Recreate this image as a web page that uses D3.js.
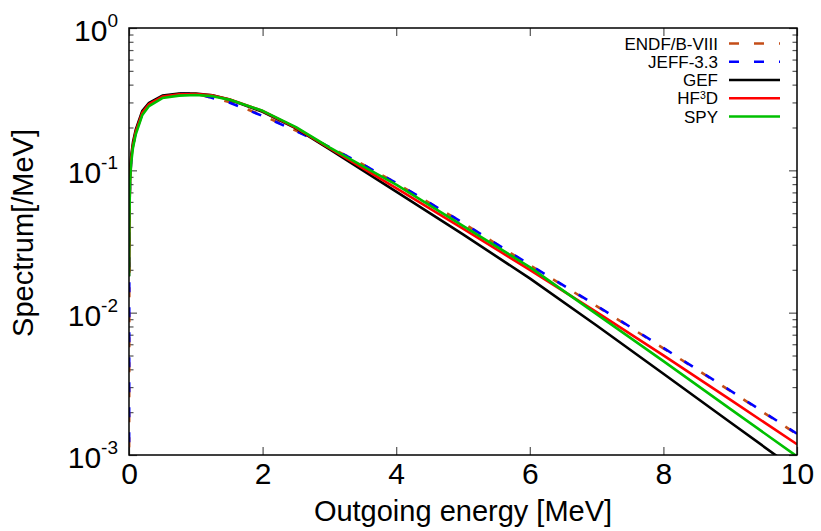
<!DOCTYPE html>
<html>
<head>
<meta charset="utf-8">
<script src="https://cdn.jsdelivr.net/npm/d3@7"></script>
<style>
  body { margin: 0; background: #fff; }
  svg { font-family: "Liberation Sans", Arial, sans-serif; }
</style>
</head>
<body>
<svg id="chart" width="821" height="531"></svg>
<script>
// outgoing energy grid [MeV]
const energy = [0, 0.005, 0.015, 0.03, 0.06, 0.1, 0.2, 0.3, 0.5, 0.75, 1, 1.25, 1.5, 2, 2.5, 3, 3.5, 4, 5, 6, 7, 8, 9, 10];

// spectra [/MeV]
const endf = [0.0001, 0.045, 0.08, 0.11, 0.148, 0.183, 0.25, 0.29, 0.33, 0.344, 0.345, 0.323, 0.302, 0.243, 0.19, 0.146, 0.11, 0.0813, 0.0427, 0.0216, 0.0111, 0.00562, 0.00282, 0.0014];
const jeff = [0.0001, 0.046, 0.081, 0.111, 0.149, 0.184, 0.251, 0.291, 0.331, 0.345, 0.347, 0.322, 0.3, 0.241, 0.189, 0.146, 0.11, 0.0815, 0.0428, 0.0217, 0.0112, 0.00565, 0.00284, 0.00141];
const gef = [0.018, 0.05, 0.09, 0.123, 0.158, 0.192, 0.262, 0.298, 0.335, 0.346, 0.347, 0.337, 0.315, 0.258, 0.197, 0.141, 0.1, 0.0708, 0.0355, 0.0174, 0.00813, 0.00372, 0.0017, 0.000776];
const hf3d = [0.019, 0.048, 0.086, 0.118, 0.152, 0.186, 0.255, 0.292, 0.33, 0.342, 0.344, 0.336, 0.316, 0.261, 0.199, 0.143, 0.1035, 0.075, 0.0389, 0.02, 0.0101, 0.00501, 0.00245, 0.00119];
const spy = [0.018, 0.044, 0.08, 0.11, 0.145, 0.178, 0.245, 0.283, 0.322, 0.335, 0.338, 0.332, 0.314, 0.262, 0.201, 0.145, 0.107, 0.0794, 0.0407, 0.0209, 0.00977, 0.00457, 0.00211, 0.000977];

const seriesNames = ['ENDF/B-VIII', 'JEFF-3.3', 'GEF', 'HF3D', 'SPY'];
const seriesValues = [endf, jeff, gef, hf3d, spy];

const xTicks = [0, 2, 4, 6, 8, 10];
const yTicks = [1, 0.1, 0.01, 0.001];
const yTickExp = ['0', '-1', '-2', '-3'];

// line styles, same order as seriesNames
const styles = [
  { color: '#c44d18', dash: '10,15', offset: 0 },
  { color: '#0000ff', dash: '10,15', offset: -5 },
  { color: '#000000', dash: null, offset: 0 },
  { color: '#ff0000', dash: null, offset: 0 },
  { color: '#00c000', dash: null, offset: 0 }
];

const margin = { left: 129, top: 28 };
const width = 668, height = 427;

const svg = d3.select('#chart');
const chart = svg.append('g')
  .attr('transform', `translate(${margin.left}, ${margin.top})`);

const xScale = d3.scaleLinear().domain([0, 10]).range([0, width]);
const yScale = d3.scaleLog().domain([0.001, 1]).range([height, 0]);

svg.append('defs').append('clipPath').attr('id', 'plotclip')
  .append('rect').attr('width', width).attr('height', height);

// minor log ticks 2..9 per decade
const yMinor = [];
[0.001, 0.01, 0.1].forEach(b => { for (let k = 2; k <= 9; k++) yMinor.push(b * k); });

function styleAxis(g) {
  g.select('.domain').remove();
  g.selectAll('line').attr('stroke', '#555').attr('stroke-width', 1.2);
}

// bottom / top
chart.append('g')
  .attr('transform', `translate(0, ${height})`)
  .call(d3.axisBottom(xScale).tickValues(xTicks).tickSize(-8).tickPadding(8).tickFormat(d3.format('d')))
  .call(styleAxis)
  .call(g => g.selectAll('text').attr('font-size', 30).attr('font-family', '"Liberation Sans", Arial, sans-serif').attr('fill', '#000'));
chart.append('g')
  .call(d3.axisTop(xScale).tickValues(xTicks).tickSize(-8).tickFormat(''))
  .call(styleAxis);

// left / right, majors and minors
chart.append('g')
  .call(d3.axisLeft(yScale).tickValues(yTicks).tickSize(-8).tickFormat(''))
  .call(styleAxis);
chart.append('g')
  .call(d3.axisLeft(yScale).tickValues(yMinor).tickSize(-4.5).tickFormat(''))
  .call(styleAxis);
chart.append('g')
  .attr('transform', `translate(${width}, 0)`)
  .call(d3.axisRight(yScale).tickValues(yTicks).tickSize(-8).tickFormat(''))
  .call(styleAxis);
chart.append('g')
  .attr('transform', `translate(${width}, 0)`)
  .call(d3.axisRight(yScale).tickValues(yMinor).tickSize(-4.5).tickFormat(''))
  .call(styleAxis);

// y tick labels 10^n
yTicks.forEach((t, i) => {
  const lab = chart.append('text')
    .attr('x', -11)
    .attr('y', yScale(t) + 13)
    .attr('text-anchor', 'end')
    .attr('font-size', 30);
  lab.append('tspan').text('10');
  lab.append('tspan').attr('font-size', 19).attr('dy', -14).text(yTickExp[i]);
});

// curves
const line = d3.line()
  .x(d => xScale(d[0]))
  .y(d => yScale(d[1]));

const plot = chart.append('g').attr('clip-path', 'url(#plotclip)');
seriesValues.forEach((vals, i) => {
  plot.append('path')
    .datum(energy.map((e, j) => [e, vals[j]]))
    .attr('fill', 'none')
    .attr('stroke', styles[i].color)
    .attr('stroke-width', 2.6)
    .attr('stroke-dasharray', styles[i].dash)
    .attr('stroke-dashoffset', styles[i].offset)
    .attr('stroke-linejoin', 'round')
    .attr('d', line);
});

// frame
chart.append('rect')
  .attr('width', width)
  .attr('height', height)
  .attr('fill', 'none')
  .attr('stroke', '#000')
  .attr('stroke-width', 1.5);

// legend
const legend = svg.append('g');
seriesNames.forEach((name, i) => {
  const ly = 43.5 + i * 18.25;
  const t = legend.append('text')
    .attr('x', 718)
    .attr('y', ly + 6)
    .attr('text-anchor', 'end')
    .attr('font-size', 17);
  if (name === 'HF3D') {
    t.append('tspan').text('HF');
    t.append('tspan').attr('font-size', 10.5).attr('dy', -5).text('3');
    t.append('tspan').attr('dy', 5).text('D');
  } else {
    t.text(name);
  }
  legend.append('line')
    .attr('x1', 729).attr('x2', 780)
    .attr('y1', ly).attr('y2', ly)
    .attr('stroke', styles[i].color)
    .attr('stroke-width', 2.6)
    .attr('stroke-dasharray', styles[i].dash);
});

// axis titles
svg.append('text')
  .attr('x', margin.left + width / 2)
  .attr('y', 521)
  .attr('text-anchor', 'middle')
  .attr('font-size', 29)
  .text('Outgoing energy [MeV]');

svg.append('text')
  .attr('transform', 'translate(33, 233) rotate(-90)')
  .attr('text-anchor', 'middle')
  .attr('font-size', 29)
  .text('Spectrum[/MeV]');
</script>
</body>
</html>
